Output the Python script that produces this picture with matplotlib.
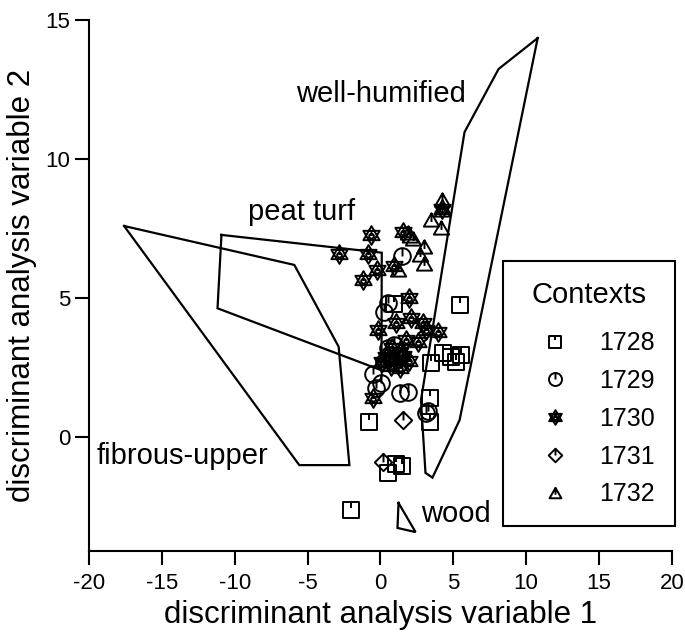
import numpy as np
import matplotlib
matplotlib.use("Agg")
import matplotlib.pyplot as plt
from matplotlib.path import Path
from matplotlib.lines import Line2D

plt.rcParams['font.family'] = ['Liberation Sans', 'DejaVu Sans']
plt.rcParams['axes.unicode_minus'] = False

# --- data ---
ctx_labels = ["1728", "1729", "1730", "1731", "1732"]

sq_x = [0.96, 5.43, 4.28, 4.86, 5.55, 5.20, 3.48, 3.37, -0.76, 3.37, 0.50, 1.08, 1.51, -2.03]
sq_y = [4.78, 4.75, 3.01, 2.89, 2.95, 2.71, 2.65, 1.39, 0.55, 0.55, -1.28, -0.97, -1.03, -2.61]

circ_x = [1.46, 0.50, 0.27, -0.48, 0.05, -0.30, 1.31, 1.92, 3.14, 3.23, 0.50, 0.96, 0.62, 1.17, 0.27]
circ_y = [6.51, 4.81, 4.48, 2.27, 1.93, 1.75, 1.57, 1.63, 0.88, 0.94, 3.19, 3.31, 2.95, 2.91, 2.70]

star_x = [-2.82, -0.64, -0.87, -0.23, -1.22, 1.58, 0.91, 1.95, 2.11, 1.08, 2.91, 3.14, 3.94,
          -0.14, 1.77, 2.61, -0.48, 0.76, 1.31, 0.41, 1.03, 1.58, 1.99, 0.69, 1.31, 0.14, 4.20]
star_y = [6.57, 7.27, 6.57, 6.01, 5.65, 7.38, 6.15, 4.99, 4.27, 4.09, 4.09, 3.85, 3.79,
          3.85, 3.49, 3.43, 1.39, 3.20, 3.06, 2.88, 2.77, 2.91, 2.73, 2.55, 2.48, 2.70, 8.20]

diam_x = [1.53, 0.16]
diam_y = [0.61, -0.89]

tri_x = [4.21, 4.21, 3.44, 4.17, 1.86, 2.06, 2.20, 3.02, 2.73, 2.96, 1.19]
tri_y = [8.53, 8.17, 7.81, 7.53, 7.34, 7.23, 7.12, 6.85, 6.55, 6.22, 6.01]

# reference group envelopes
fib_x = [-17.59, -5.91, -2.87, -2.13, -5.57, -17.59]
fib_y = [7.59, 6.19, 3.25, -1.01, -1.01, 7.59]
peat_x = [-10.91, 0.09, 0.07, -11.18, -10.91]
peat_y = [7.27, 6.63, 2.40, 4.63, 7.27]
well_x = [10.79, 8.11, 5.77, 2.78, 3.09, 3.57, 5.43, 10.79]
well_y = [14.35, 13.24, 10.97, 1.33, -1.29, -1.46, 0.61, 14.35]
wood_x = [1.24, 1.17, 2.41, 1.24]
wood_y = [-2.37, -3.27, -3.42, -2.37]

group_names = ["well-humified", "peat turf", "fibrous-upper", "wood"]
group_text_x = [-5.79, -9.12, -19.50, 2.80]
group_text_y = [12.06, 7.81, -0.98, -3.05]


# --- marker shapes with the little tick inside ---
def seg(p0, p1):
    return Path([p0, p1], [Path.MOVETO, Path.LINETO])

def poly(pts):
    pts = list(pts) + [pts[0]]
    return Path(pts, [Path.MOVETO] + [Path.LINETO] * (len(pts) - 2) + [Path.CLOSEPOLY])

def circle(r, cy=0.0):
    c = Path.unit_circle()
    return Path(c.vertices * r + [0, cy], c.codes)

m_square = Path.make_compound_path(poly([(-1, -1), (1, -1), (1, 1), (-1, 1)]),
                                   seg((0, 1), (0, 0.25)))
m_circle = Path.make_compound_path(circle(1.0), seg((0, 1), (0, 0)))
ang_up = np.radians([90, 210, 330])
ang_dn = np.radians([270, 30, 150])
m_star = Path.make_compound_path(poly(list(zip(np.cos(ang_up), np.sin(ang_up)))),
                                 poly(list(zip(np.cos(ang_dn), np.sin(ang_dn)))),
                                 circle(0.25, -0.08),
                                 seg((0, 0.5), (0, -0.05)))
m_diam = Path.make_compound_path(poly([(0, 1), (1, 0), (0, -1), (-1, 0)]),
                                 seg((0, 1), (0, 0)))
m_tri = Path.make_compound_path(poly([(-1, -0.8), (1, -0.8), (0, 0.95)]),
                                seg((0, 0.95), (0, -0.2)))

fig = plt.figure(figsize=(6.85, 6.39), dpi=100)
ax = fig.add_axes([0.1299, 0.1377, 0.851, 0.831])

for px, py in [(fib_x, fib_y), (peat_x, peat_y), (well_x, well_y), (wood_x, wood_y)]:
    ax.plot(px, py, color='black', lw=1.6, solid_joinstyle='miter')

series = [(sq_x, sq_y, m_square, 11.5), (circ_x, circ_y, m_circle, 12),
          (star_x, star_y, m_star, 13.5), (diam_x, diam_y, m_diam, 12.5),
          (tri_x, tri_y, m_tri, 11)]
handles = []
for (sx, sy, mk, ms), lab in zip(series, ctx_labels):
    ax.plot(sx, sy, ls='none', marker=mk, ms=ms, mfc='none', mec='black', mew=1.4)
    handles.append(Line2D([], [], ls='none', marker=mk, ms=ms * 0.78, mfc='none',
                          mec='black', mew=1.4, label=lab))

for name, tx, ty in zip(group_names, group_text_x, group_text_y):
    ax.text(tx, ty, name, fontsize=21, ha='left', va='baseline')

ax.set_xlim(-20, 20)
ax.set_ylim(-4.1, 15)
ax.set_xticks(np.arange(-20, 21, 5))
ax.set_yticks([0, 5, 10, 15])
ax.spines['top'].set_visible(False)
ax.spines['right'].set_visible(False)
for s in ['left', 'bottom']:
    ax.spines[s].set_linewidth(1.5)
ax.tick_params(direction='out', length=10, width=1.5, labelsize=16)
ax.tick_params(axis='x', pad=6)
ax.set_xlabel("discriminant analysis variable 1", fontsize=22.5, labelpad=4)
ax.set_ylabel("discriminant analysis variable 2", fontsize=22.5, labelpad=6)

leg = ax.legend(handles=handles, title="Contexts", loc='upper left',
                bbox_to_anchor=(0.710, 0.546), borderaxespad=0, fontsize=18,
                title_fontsize=21, frameon=True, fancybox=False, framealpha=1,
                edgecolor='black', handlelength=2.6, handletextpad=0.44,
                borderpad=0.8, labelspacing=0.55)
leg.get_frame().set_linewidth(1.5)
leg._legend_box.sep = 16

fig.savefig("out.png", dpi=100)
